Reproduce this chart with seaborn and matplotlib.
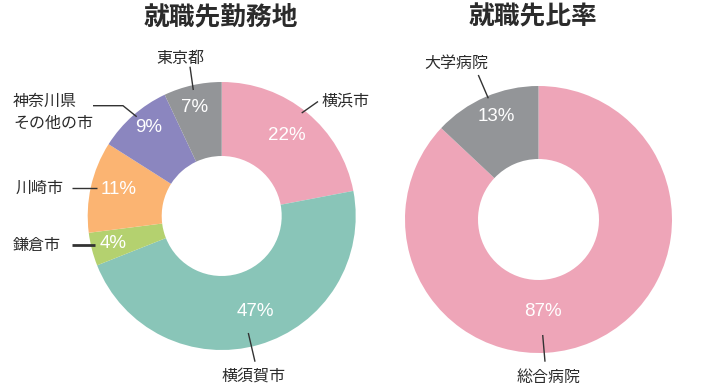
import matplotlib
matplotlib.use("Agg")
import matplotlib.pyplot as plt
import seaborn as sns

# ---- data ----
left_title = "就職先勤務地"
left_labels = ["横浜市", "横須賀市", "鎌倉市", "川崎市", "神奈川県\nその他の市", "東京都"]
left_values = [22, 47, 4, 11, 9, 7]
left_colors = ["#EEA5B8", "#89C5B8", "#B4D16F", "#FBB472", "#8B86BF", "#939598"]

right_title = "就職先比率"
right_labels = ["総合病院", "大学病院"]
right_values = [87, 13]
right_colors = ["#EEA5B8", "#939598"]

sns.set_theme(style="white")
plt.rcParams['font.family'] = ['Noto Sans CJK JP', 'DejaVu Sans']

W, H = 709, 392
fig = plt.figure(figsize=(W / 100, H / 100), dpi=100)
ax = fig.add_axes([0, 0, 1, 1])

def Y(y):
    return H - y

def donut(vals, colors, cx, cy, r, inner):
    ax.pie(vals, colors=colors, startangle=90, counterclock=False,
           center=(cx, Y(cy)), radius=r,
           wedgeprops=dict(width=r - inner, linewidth=0, edgecolor="none"))

donut(left_values, left_colors, 221.7, 216, 134, 60)
donut(right_values, right_colors, 538.5, 219.5, 133.5, 60.5)

ax.set_xlim(0, W)
ax.set_ylim(0, H)
ax.set_aspect("equal")
ax.axis("off")

tc = "#2b2b2b"
# titles
ax.text(221, Y(17), left_title, ha="center", va="center", fontsize=18.5,
        fontweight="bold", color=tc)
ax.text(533, Y(17), right_title, ha="center", va="center", fontsize=18.5,
        fontweight="bold", color=tc)

pct_font = dict(family=['Liberation Sans', 'DejaVu Sans'], fontsize=13.5, color="white")
lab_font = dict(fontsize=11.5, color=tc)

# left percentages
left_pct_pos = [(286.7, 135), (255, 312), (113.3, 243.5), (118.3, 189.5), (148.3, 127.5), (194.3, 107)]
for v, (x, y) in zip(left_values, left_pct_pos):
    ax.text(x, Y(y), f"{v}%", ha="center", va="center", **pct_font)

lc = "#333333"
def line(pts, lw=1.0):
    ax.plot([p[0] for p in pts], [Y(p[1]) for p in pts], color=lc, lw=lw,
            solid_capstyle="butt")

# 横浜市
line([(301.7, 113), (318, 101.5)])
ax.text(321.5, Y(101.5), left_labels[0], ha="left", va="center", **lab_font)
# 横須賀市
line([(248.3, 333), (255, 361.7)])
ax.text(254, Y(376), left_labels[1], ha="center", va="center", **lab_font)
# 鎌倉市
line([(71.7, 245), (95, 245)], lw=2.0)
ax.text(13, Y(245), left_labels[2], ha="left", va="center", **lab_font)
# 川崎市
line([(71.7, 188), (96.7, 188)])
ax.text(16, Y(188), left_labels[3], ha="left", va="center", **lab_font)
# 神奈川県その他の市
line([(93, 105.7), (123, 105.7), (136.7, 116.7)])
ax.text(13, Y(112.5), left_labels[4], ha="left", va="center",
        linespacing=1.35, **lab_font)
# 東京都
line([(190, 66.7), (193.3, 90)])
ax.text(180, Y(58.5), left_labels[5], ha="center", va="center", **lab_font)

# right percentages
right_pct_pos = [(542.7, 311), (496.7, 116)]
for v, (x, y) in zip(right_values, right_pct_pos):
    ax.text(x, Y(y), f"{v}%", ha="center", va="center", **pct_font)

# 総合病院
line([(542.7, 335), (545, 361.7)])
ax.text(548.3, Y(377.5), right_labels[0], ha="center", va="center", **lab_font)
# 大学病院
line([(478.3, 75), (488.3, 98.3)])
ax.text(456.7, Y(63), right_labels[1], ha="center", va="center", **lab_font)

fig.savefig("out.png", dpi=100, facecolor="white")
